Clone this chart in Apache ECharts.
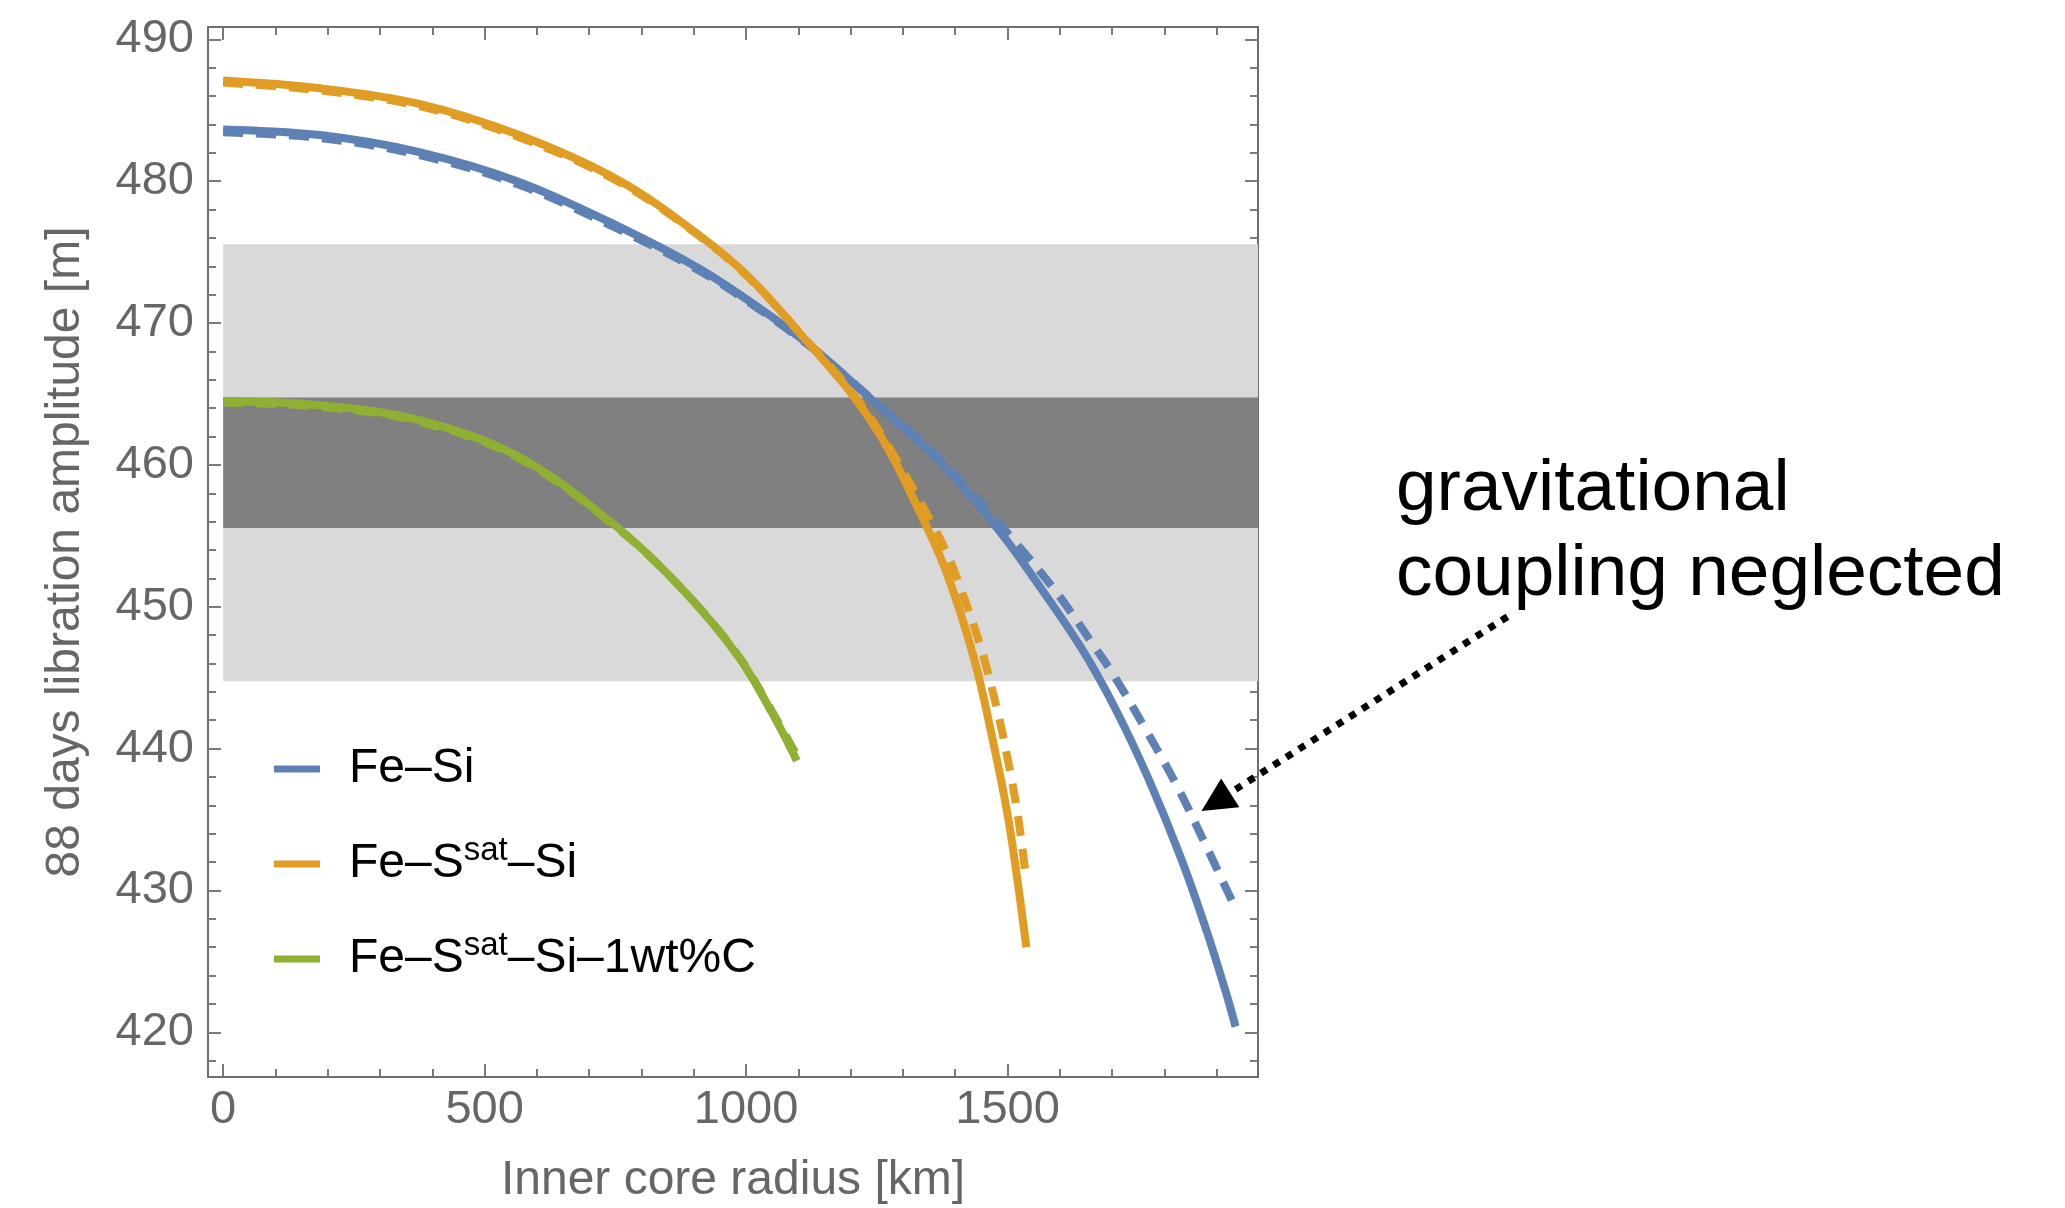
<!DOCTYPE html>
<html>
<head>
<meta charset="utf-8">
<title>88 days libration amplitude vs inner core radius</title>
<script src="https://cdn.jsdelivr.net/npm/echarts@6/dist/echarts.min.js"></script>
<style>
  html, body { margin: 0; padding: 0; background: #ffffff; }
  #chart { width: 2065px; height: 1208px; }
</style>
</head>
<body>
<div id="chart"></div>
<script>
// Inner core radius [km] against 88-day libration amplitude [m],
// full coupling (solid) and gravitational coupling neglected (dashed).
const feSiRadius = [0, 185, 375, 566, 757, 910, 1024, 1126, 1228, 1355, 1437, 1500, 1545, 1641, 1705, 1768, 1832, 1883, 1921, 1936];
const feSiAmp    = [483.65, 483.25, 482.05, 479.95, 476.8, 473.85, 471.1, 468.3, 465.0, 460.8, 457.5, 454.6, 452.3, 447.1, 442.9, 438.0, 432.25, 426.9, 422.4, 420.4];

const feSiNoGravRadius = [0, 185, 375, 566, 757, 910, 1024, 1126, 1228, 1355, 1437, 1507, 1596, 1666, 1701, 1765, 1825, 1879, 1930];
const feSiNoGravAmp    = [483.45, 483.05, 481.85, 479.75, 476.6, 473.7, 471.0, 468.25, 465.05, 460.95, 457.8, 454.9, 450.9, 447.2, 445.3, 441.3, 437.3, 433.2, 429.2];

const feSSiRadius = [0, 185, 375, 566, 757, 910, 1005, 1126, 1202, 1266, 1326, 1383, 1437, 1476, 1501, 1520, 1536];
const feSSiAmp    = [487.1, 486.55, 485.45, 483.25, 480.05, 476.2, 473.25, 468.3, 465.0, 461.5, 457.15, 452.45, 446.2, 439.85, 435.15, 430.45, 426.0];

const feSSiNoGravRadius = [0, 185, 375, 566, 757, 910, 1005, 1126, 1202, 1266, 1361, 1390, 1412, 1450, 1482, 1507, 1520, 1527, 1534];
const feSSiNoGravAmp    = [486.95, 486.4, 485.3, 483.1, 479.95, 476.15, 473.2, 468.35, 465.15, 461.7, 455.5, 453.25, 451.15, 447.0, 442.45, 438.0, 435.2, 433.4, 431.3];

const feSSiCRadius = [0, 185, 375, 566, 757, 884, 986, 1050, 1097];
const feSSiCAmp    = [464.5, 464.2, 463.15, 460.55, 455.5, 451.0, 446.45, 442.5, 439.15];

const feSSiCNoGravRadius = [0, 185, 375, 566, 757, 884, 986, 1050, 1100];
const feSSiCNoGravAmp    = [464.4, 464.1, 463.05, 460.45, 455.45, 451.0, 446.5, 442.6, 439.3];

// Observed amplitude ranges (outer and inner bands) [m]
const outerBand = [444.75, 475.55];
const innerBand = [455.55, 464.75];

// Axis extents and tick values
const xRange = [-29, 1979];
const yRange = [416.85, 490.87];
const xMajorTicks = [0, 500, 1000, 1500];
const xMinorTicks = [100, 200, 300, 400, 600, 700, 800, 900, 1100, 1200, 1300, 1400, 1600, 1700, 1800, 1900];
const yMajorTicks = [420, 430, 440, 450, 460, 470, 480, 490];
const yMinorTicks = [418, 422, 424, 426, 428, 432, 434, 436, 438, 442, 444, 446, 448, 452, 454, 456, 458, 462, 464, 466, 468, 472, 474, 476, 478, 482, 484, 486, 488];

const seriesNames = ['Fe–Si', 'Fe–S^sat–Si', 'Fe–S^sat–Si–1wt%C'];
const colors = ['#5e81b5', '#e19c24', '#8fb032'];

const FONT = '"Liberation Sans", Arial, Helvetica, sans-serif';
const FRAME = '#6e6e6e';
const TICK = '#7a7a7a';
const LABEL = '#666666';
const LINE_W = 8;

function zip(xs, ys) { return xs.map((x, i) => [x, ys[i]]); }

function makeAxis(kind, position, ticks, tickLen, withLine, withLabels, name) {
  const ax = {
    type: 'value',
    position: position,
    min: kind === 'x' ? xRange[0] : yRange[0],
    max: kind === 'x' ? xRange[1] : yRange[1],
    splitLine: { show: false },
    axisLine: { show: withLine, onZero: false, lineStyle: { color: FRAME, width: 2 } },
    axisTick: { show: true, inside: true, length: tickLen, customValues: ticks,
                lineStyle: { color: TICK, width: 2 } },
    axisLabel: { show: withLabels }
  };
  if (withLabels) {
    ax.axisLabel = {
      show: true, customValues: ticks, color: LABEL, fontSize: 47, fontFamily: FONT,
      margin: kind === 'x' ? 10 : 14,
      formatter: (v) => String(v)
    };
  }
  if (name) {
    ax.name = name;
    ax.nameLocation = 'middle';
    ax.nameGap = kind === 'x' ? 80 : 118;
    ax.nameTextStyle = { color: LABEL, fontSize: 48, fontFamily: FONT };
  }
  return ax;
}

const lineSeries = (name, data, color, dashed) => ({
  name: name,
  type: 'line',
  data: data,
  showSymbol: false,
  symbol: 'none',
  smooth: 0.35,
  clip: true,
  silent: true,
  lineStyle: { color: color, width: LINE_W, type: dashed ? [20, 13] : 'solid', cap: 'butt' },
  itemStyle: { color: color },
  z: 3
});

const series = [
  lineSeries(seriesNames[0], zip(feSiRadius, feSiAmp), colors[0], false),
  lineSeries(seriesNames[0] + ' (no grav.)', zip(feSiNoGravRadius, feSiNoGravAmp), colors[0], true),
  lineSeries(seriesNames[1], zip(feSSiRadius, feSSiAmp), colors[1], false),
  lineSeries(seriesNames[1] + ' (no grav.)', zip(feSSiNoGravRadius, feSSiNoGravAmp), colors[1], true),
  lineSeries(seriesNames[2], zip(feSSiCRadius, feSSiCAmp), colors[2], false),
  lineSeries(seriesNames[2] + ' (no grav.)', zip(feSSiCNoGravRadius, feSSiCNoGravAmp), colors[2], true)
];

// grey bands behind the curves
series[0].markArea = {
  silent: true,
  data: [
    [{ xAxis: 0, yAxis: outerBand[0], itemStyle: { color: '#d9d9d9' } }, { xAxis: xRange[1], yAxis: outerBand[1] }],
    [{ xAxis: 0, yAxis: innerBand[0], itemStyle: { color: '#808080' } }, { xAxis: xRange[1], yAxis: innerBand[1] }]
  ]
};

const option = {
  animation: false,
  backgroundColor: '#ffffff',
  grid: { left: 208, top: 27, width: 1050, height: 1050, outerBoundsMode: 'none', containLabel: false },
  xAxis: [
    makeAxis('x', 'bottom', xMajorTicks, 13, true, true, 'Inner core radius [km]'),
    makeAxis('x', 'bottom', xMinorTicks, 8, false, false),
    makeAxis('x', 'top', xMajorTicks, 13, true, false),
    makeAxis('x', 'top', xMinorTicks, 8, false, false)
  ],
  yAxis: [
    makeAxis('y', 'left', yMajorTicks, 13, true, true, '88 days libration amplitude [m]'),
    makeAxis('y', 'left', yMinorTicks, 8, false, false),
    makeAxis('y', 'right', yMajorTicks, 13, true, false),
    makeAxis('y', 'right', yMinorTicks, 8, false, false)
  ],
  legend: {
    data: seriesNames,
    orient: 'vertical',
    left: 274,
    top: 739,
    padding: 0,
    itemGap: 35,
    itemWidth: 46,
    itemHeight: 7,
    icon: 'rect',
    selectedMode: false,
    formatter: (name) => '{n|' + name.replace('^sat', '}{s|sat}{n|') + '}',
    textStyle: {
      color: '#000000',
      fontSize: 48,
      fontFamily: FONT,
      lineHeight: 60,
      padding: [0, 0, 0, 24],
      rich: {
        n: { fontSize: 48, lineHeight: 60, color: '#000000', fontFamily: FONT },
        s: { fontSize: 33, lineHeight: 32, color: '#000000', fontFamily: FONT, verticalAlign: 'top' }
      }
    }
  },
  series: series
};

const chart = echarts.init(document.getElementById('chart'), null, { renderer: 'canvas' });
chart.setOption(option);

// Annotation: dotted arrow pointing at the dashed Fe–Si curve
const arrowStart = chart.convertToPixel({ gridIndex: 0 }, [2456, 449.3]);
const arrowTip = chart.convertToPixel({ gridIndex: 0 }, [1871, 435.6]);
const dx = arrowTip[0] - arrowStart[0];
const dy = arrowTip[1] - arrowStart[1];
const len = Math.sqrt(dx * dx + dy * dy);
const ux = dx / len, uy = dy / len;
const headLen = 34, headHalf = 17;
const bx = arrowTip[0] - ux * headLen, by = arrowTip[1] - uy * headLen;
const px = -uy, py = ux;

chart.setOption({
  graphic: [
    {
      type: 'line',
      silent: true,
      shape: { x1: arrowStart[0], y1: arrowStart[1], x2: bx + ux * 4, y2: by + uy * 4 },
      style: { stroke: '#000000', lineWidth: 7, lineDash: [7, 8], lineCap: 'butt' },
      z: 100
    },
    {
      type: 'polygon',
      silent: true,
      shape: { points: [arrowTip, [bx + px * headHalf, by + py * headHalf], [bx - px * headHalf, by - py * headHalf]] },
      style: { fill: '#000000' },
      z: 100
    },
    {
      type: 'text',
      silent: true,
      x: 1396,
      y: 447,
      style: {
        text: 'gravitational\ncoupling neglected',
        fill: '#000000',
        font: '73px ' + FONT,
        lineHeight: 85,
        align: 'left',
        verticalAlign: 'top'
      },
      z: 100
    }
  ]
});
</script>
</body>
</html>
